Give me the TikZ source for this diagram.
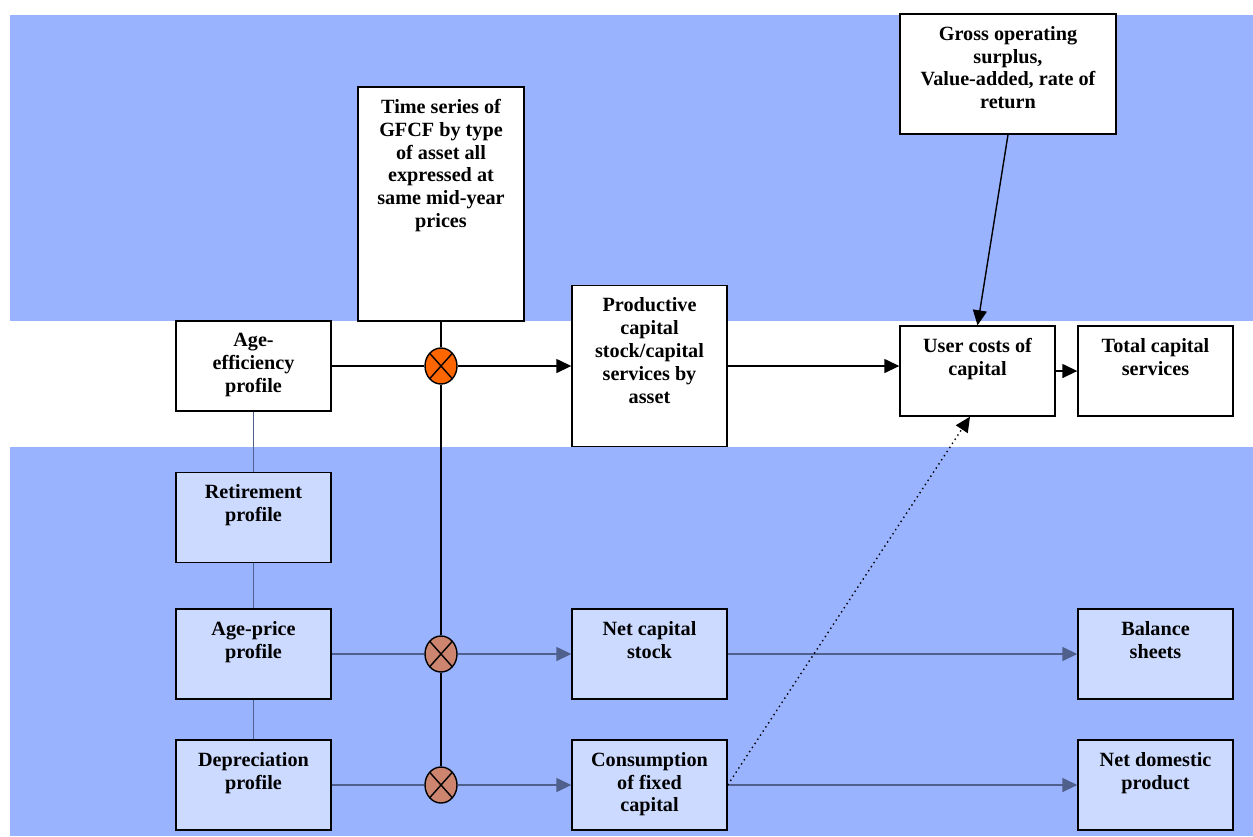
\documentclass[tikz,border=0pt]{standalone}
\usepackage{fontspec}
\setmainfont{Liberation Serif}
\usetikzlibrary{arrows.meta,shapes.geometric}
\definecolor{bandblue}{RGB}{153,179,255}
\definecolor{paleblue}{RGB}{204,218,255}
\definecolor{flowgray}{RGB}{80,96,140}
\definecolor{mixorange}{RGB}{255,102,0}
\definecolor{mixbrown}{RGB}{205,133,111}
\begin{document}
\begin{tikzpicture}[x=0.02cm, y=-0.02cm,
    font=\fontsize{11.5}{13}\selectfont\bfseries,
    box/.style={draw, line width=0.8pt, fill=white, minimum width=3.1cm, minimum height=1.8cm, inner sep=0pt},
    lowbox/.style={box, fill=paleblue},
    txt/.style={anchor=north, align=center, inner sep=0pt, yshift=-0.25cm},
    mix/.style={draw, line width=0.8pt, ellipse, minimum width=0.64cm, minimum height=0.72cm, inner sep=0pt,
        path picture={\draw[line width=0.8pt] (path picture bounding box.north west) -- (path picture bounding box.south east)
            (path picture bounding box.north east) -- (path picture bounding box.south west);}},
    flow/.style={line width=0.8pt, -{Triangle[length=0.3cm, width=0.28cm]}},
    lowflow/.style={flow, flowgray},
    link/.style={flowgray, line width=0.6pt}]
    \useasboundingbox (0,0) rectangle (1253,836);
    % Background bands
    \fill[bandblue] (10,15) rectangle (1253,321);
    \fill[bandblue] (10,447) rectangle (1253,836);
    % Upper boxes
    \node[box, minimum width=3.32cm, minimum height=4.68cm] (gfcf) at (441,204) {};
    \node[txt] (gfcftxt) at (gfcf.north) {Time series of\\GFCF by type\\of asset all\\expressed at\\same mid-year\\prices};
    \node[box, minimum width=4.32cm, minimum height=2.4cm] (surplus) at (1008,74) {};
    \node[txt] (surplustxt) at (surplus.north) {Gross operating\\surplus,\\Value-added, rate of\\return};
    \node[box] (ageeff) at (253.5,366) {};
    \node[txt] (ageefftxt) at (ageeff.north) {Age-\\efficiency\\profile};
    \node[box, minimum height=3.22cm] (prodcap) at (649.5,366) {};
    \node[txt] (prodcaptxt) at (prodcap.north) {Productive\\capital\\stock/capital\\services by\\asset};
    \node[box] (usercost) at (977.5,371) {};
    \node[txt] (usercosttxt) at (usercost.north) {User costs of\\capital};
    \node[box] (totalcap) at (1155.5,371) {};
    \node[txt] (totalcaptxt) at (totalcap.north) {Total capital\\services};
    % Lower boxes
    \node[lowbox] (retire) at (253.5,517.5) {};
    \node[txt] (retiretxt) at (retire.north) {Retirement\\profile};
    \node[lowbox] (ageprice) at (253.5,654) {};
    \node[txt] (agepricetxt) at (ageprice.north) {Age-price\\profile};
    \node[lowbox] (deprec) at (253.5,785) {};
    \node[txt] (deprectxt) at (deprec.north) {Depreciation\\profile};
    \node[lowbox] (netcap) at (649.5,654) {};
    \node[txt] (netcaptxt) at (netcap.north) {Net capital\\stock};
    \node[lowbox] (cfc) at (649.5,785) {};
    \node[txt] (cfctxt) at (cfc.north) {Consumption\\of fixed\\capital};
    \node[lowbox] (balance) at (1155.5,654) {};
    \node[txt] (balancetxt) at (balance.north) {Balance\\sheets};
    \node[lowbox] (ndp) at (1155.5,785) {};
    \node[txt] (ndptxt) at (ndp.north) {Net domestic\\product};
    % Profile links
    \draw[link] (ageeff) -- (retire);
    \draw[link] (retire) -- (ageprice);
    \draw[link] (ageprice) -- (deprec);
    % Mixing points
    \node[mix, fill=mixorange] (mixprod) at (441,366) {};
    \node[mix, fill=mixbrown] (mixnet) at (441,654) {};
    \node[mix, fill=mixbrown] (mixcfc) at (441,785) {};
    \draw[line width=0.8pt] (gfcf) -- (mixprod);
    \draw[line width=0.8pt] (mixprod) -- (mixnet);
    \draw[line width=0.8pt] (mixnet) -- (mixcfc);
    % Upper flows
    \draw[line width=0.8pt] (ageeff.east) -- (mixprod.west);
    \draw[flow] (mixprod.east) -- (prodcap.west);
    \draw[flow] (prodcap.east) -- (prodcap.east -| usercost.west);
    \draw[flow] (surplus.south) -- (usercost.north);
    \draw[flow] (usercost.east) -- (totalcap.west);
    % Lower flows
    \draw[link, line width=0.8pt] (ageprice.east) -- (mixnet.west);
    \draw[lowflow] (mixnet.east) -- (netcap.west);
    \draw[lowflow] (netcap.east) -- (balance.west);
    \draw[link, line width=0.8pt] (deprec.east) -- (mixcfc.west);
    \draw[lowflow] (mixcfc.east) -- (cfc.west);
    \draw[lowflow] (cfc.east) -- (ndp.west);
    \draw[flow, dotted] (cfc.east) -- ([xshift=-0.15cm]usercost.south);
\end{tikzpicture}
\end{document}
